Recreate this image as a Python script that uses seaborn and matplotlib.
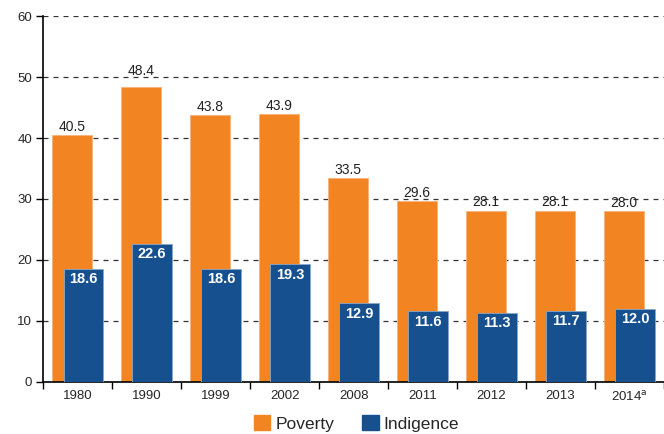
import matplotlib
matplotlib.use("Agg")
import matplotlib.pyplot as plt
import numpy as np
import pandas as pd
import seaborn as sns
from matplotlib.patches import Patch

years = ["1980", "1990", "1999", "2002", "2008", "2011", "2012", "2013", "2014$^{\\mathrm{a}}$"]
poverty = [40.5, 48.4, 43.8, 43.9, 33.5, 29.6, 28.1, 28.1, 28.0]
indigence = [18.6, 22.6, 18.6, 19.3, 12.9, 11.6, 11.3, 11.7, 12.0]

orange = "#F28522"
blue = "#16508F"

sns.set_style("white")
plt.rcParams["font.family"] = ["Liberation Sans", "DejaVu Sans"]

df = pd.DataFrame({"year": years, "poverty": poverty, "indigence": indigence})

fig = plt.figure(figsize=(6.64, 4.34), dpi=100)
ax = fig.add_axes([0.065, 0.12, 0.935, 0.843])

sns.barplot(data=df, x="year", y="poverty", color=orange, width=0.57,
            saturation=1, ax=ax, zorder=2)
sns.barplot(data=df, x="year", y="indigence", color=blue, width=0.57,
            saturation=1, ax=ax, zorder=3)

# orange a bit left, blue a bit right, overlapping
pov_bars = ax.containers[0]
ind_bars = ax.containers[1]
for p in pov_bars:
    p.set_x(p.get_x() - 0.08)
    p.set_edgecolor("#f7b27a")
    p.set_linewidth(0.6)
for p in ind_bars:
    p.set_x(p.get_x() + 0.08)
    p.set_edgecolor("#8aa6c8")
    p.set_linewidth(0.6)

pov_texts = ax.bar_label(pov_bars, labels=[f"{v:.1f}" for v in poverty], padding=0.8,
                         fontsize=10, color="#222222")
# 48.4 sits clear of the 50 gridline in the original
pov_texts[1].xyann = (pov_texts[1].xyann[0], 6.5)
ax.bar_label(ind_bars, labels=[f"{v:.1f}" for v in indigence], padding=-12.5,
             fontsize=10.5, color="white", fontweight="bold")

ax.set_ylim(0, 60)
ax.set_xlim(-0.5, 8.5)
ax.set_yticks(np.arange(0, 61, 10))
ax.yaxis.grid(True, linestyle=(0, (4, 4)), color="#333333", linewidth=0.9, zorder=0)
ax.set_axisbelow(True)

# ticks between categories
ax.set_xticks(np.arange(9))
ax.set_xticklabels(years)
ax.set_xticks(np.arange(-0.5, 9, 1), minor=True)
ax.tick_params(axis="x", which="major", length=0, labelsize=9.5, pad=6)
ax.tick_params(axis="x", which="minor", length=5, width=1, color="black",
               direction="out", bottom=True)
ax.tick_params(axis="y", length=5, width=1, color="black", labelsize=9.5,
               direction="out", left=True, pad=3)

for s in ["top", "right"]:
    ax.spines[s].set_visible(False)
for s in ["left", "bottom"]:
    ax.spines[s].set_color("black")
    ax.spines[s].set_linewidth(1.2)

ax.set_xlabel("")
ax.set_ylabel("")

handles = [Patch(color=orange, label="Poverty"), Patch(color=blue, label="Indigence")]
fig.legend(handles=handles, loc="center", bbox_to_anchor=(0.537, 0.025), ncol=2,
           frameon=False, fontsize=12.5, handlelength=0.95, handleheight=1.0,
           columnspacing=1.6, handletextpad=0.3, borderpad=0)

fig.savefig("out.png", dpi=100)
